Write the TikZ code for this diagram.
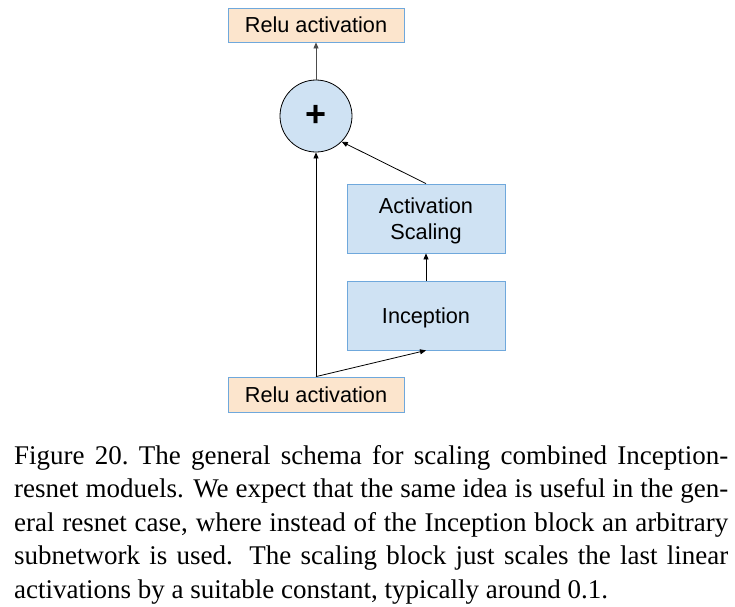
\documentclass[tikz,border=0pt]{standalone}
\usepackage{fontspec}
\setmainfont{Liberation Serif}
\newfontfamily\arialf{Liberation Sans}
\usetikzlibrary{arrows.meta}
\definecolor{peach}{HTML}{FCE5CD}
\definecolor{lblue}{HTML}{CFE2F3}
\definecolor{bborder}{HTML}{6FA8DC}
\begin{document}
\begin{tikzpicture}[x=1pt,y=-1pt,
  relubox/.style={draw=bborder,fill=peach,line width=0.8pt,minimum width=176pt,minimum height=34pt,inner sep=0pt,font=\arialf\fontsize{21.7}{26}\selectfont},
  blkbox/.style={draw=bborder,fill=lblue,line width=0.8pt,minimum width=158pt,minimum height=69pt,inner sep=0pt,align=center,text depth=0pt,font=\arialf\fontsize{21.7}{26}\selectfont},
  sumnode/.style={circle,draw=black,fill=lblue,line width=0.8pt,minimum size=72pt,inner sep=0pt,font=\arialf\bfseries\fontsize{36}{36}\selectfont},
  arr/.style={draw=black,line width=0.8pt,-{Triangle[length=6pt,width=5pt]}},
  caption/.style={anchor=north west,inner sep=0pt,text width=714pt,align=justify,font=\fontsize{27}{33.5}\selectfont}
]
\useasboundingbox (0,0) rectangle (735,606);
\fill[white] (0,0) rectangle (735,606);
\node[relubox] (top) at (316,25) {Relu activation};
\node[sumnode] (plus) at (316,116) {+};
\node[blkbox] (scale) at (426,218.5) {Activation\\Scaling};
\node[blkbox] (inc) at (426,315.5) {Inception};
\node[relubox,minimum height=35pt] (bot) at (316,394.5) {Relu activation};
\draw[arr,draw=black!70] (plus) -- (top);
\draw[arr] (bot.north) -- (plus.south);
\draw[arr] (bot.north) -- (inc.south);
\draw[arr] (inc) -- (scale);
\draw[arr] (scale.north) -- (plus.-45);
\node[caption] (cap) at (14,445) {\parindent=0pt\hyphenpenalty=10000
Figure 20.\ The general schema for scaling combined Inception-\linebreak
resnet moduels. We expect that the same idea is useful in the gen-\linebreak
eral resnet case, where instead of the Inception block an arbitrary\linebreak
subnetwork is used. The scaling block just scales the last linear\linebreak
activations by a suitable constant, typically around 0.1.};
\end{tikzpicture}
\end{document}
